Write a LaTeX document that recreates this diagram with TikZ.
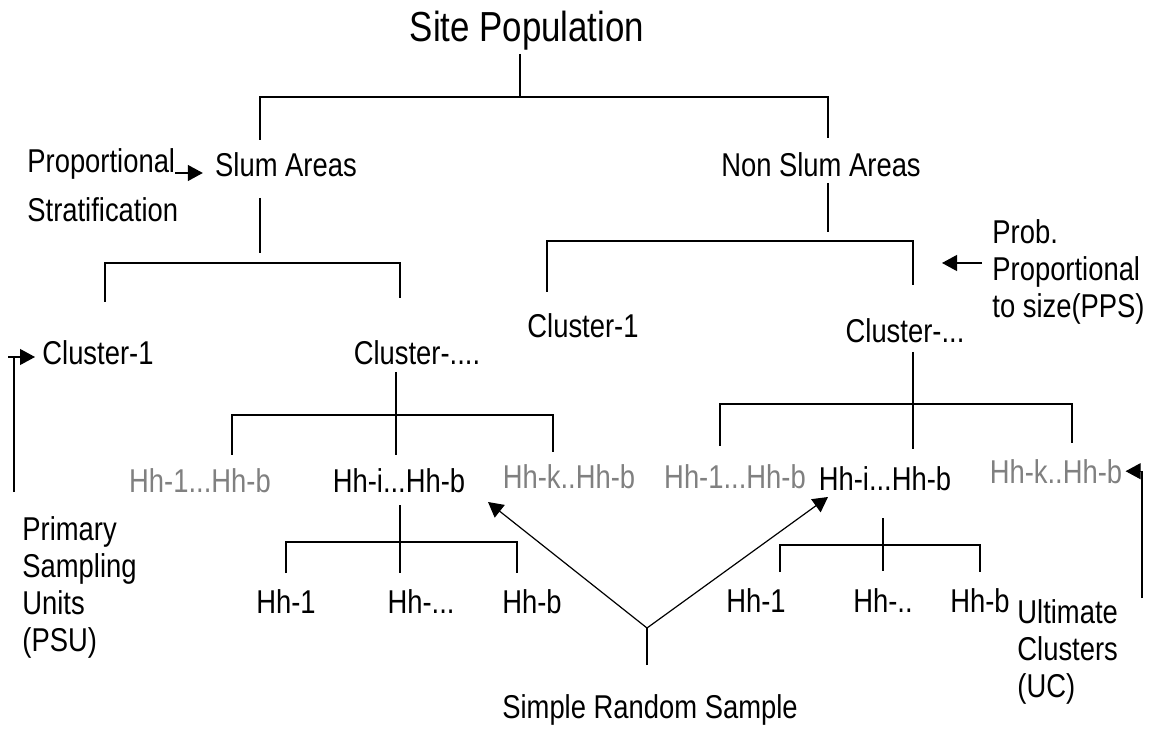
\documentclass[tikz,border=0pt]{standalone}
\usepackage{fontspec}
\setmainfont{Liberation Sans}[FakeStretch=0.83]
\usetikzlibrary{arrows.meta}
\definecolor{hhgray}{gray}{0.5}
\tikzset{
  lbl/.style={inner sep=0pt,font=\fontsize{16.5}{18.5}\selectfont},
  dim/.style={lbl,text=hhgray},
  ln/.style={line width=0.6pt},
}
\begin{document}
\begin{tikzpicture}[x=0.5pt,y=-0.5pt,>={Triangle[length=7.5pt,width=8pt]}]
\useasboundingbox (0,0) rectangle (1155,731);
% labels
\node[lbl,font=\fontsize{21}{25}\selectfont,anchor=base] (site) at (527,42) {Site Population};
\node[lbl,anchor=base] (slum) at (286,177) {Slum Areas};
\node[lbl,anchor=base] (nonslum) at (821,177) {Non Slum Areas};
\node[lbl,anchor=base west] (prop) at (27,173) {Proportional};
\node[lbl,anchor=base west] (strat) at (27,222) {Stratification};
\node[lbl,anchor=base west] (clA) at (42,365) {Cluster-1};
\node[lbl,anchor=base] (clB) at (417,365) {Cluster-....};
\node[lbl,anchor=base] (clC) at (583,338) {Cluster-1};
\node[lbl,anchor=base] (clD) at (905,343) {Cluster-...};
\node[lbl,align=left,anchor=north west] (pps) at (992,219) {Prob.\\Proportional\\to size(PPS)};
\node[dim,anchor=base] (hhA) at (200,492) {Hh-1...Hh-b};
\node[lbl,anchor=base] (hhB) at (399,493) {Hh-i...Hh-b};
\node[dim,anchor=base] (hhC) at (569,488) {Hh-k..Hh-b};
\node[dim,anchor=base] (hhD) at (735,488) {Hh-1...Hh-b};
\node[lbl,anchor=base] (hhE) at (885,490) {Hh-i...Hh-b};
\node[dim,anchor=base] (hhF) at (1056,483) {Hh-k..Hh-b};
\node[lbl,anchor=base] (hA1) at (286,613) {Hh-1};
\node[lbl,anchor=base] (hA2) at (421,613) {Hh-...};
\node[lbl,anchor=base] (hA3) at (532,613) {Hh-b};
\node[lbl,anchor=base] (hB1) at (756,612) {Hh-1};
\node[lbl,anchor=base] (hB2) at (883,612) {Hh-..};
\node[lbl,anchor=base] (hB3) at (980,612) {Hh-b};
\node[lbl,align=left,anchor=north west] (psu) at (22,516) {Primary\\Sampling\\Units\\(PSU)};
\node[lbl,align=left,anchor=north west] (uc) at (1017,599) {Ultimate\\Clusters\\(UC)};
\node[lbl,anchor=base] (srs) at (650,718) {Simple Random Sample};
% site population -> areas
\coordinate (s0) at (520,54);  \coordinate (s1) at (520,97);
\coordinate (s2) at (260,140); \coordinate (s3) at (828,138);
\draw[ln] (s0) -- (s1) (s2) |- (s1) -| (s3);
% slum areas -> clusters
\coordinate (a0) at (260,198); \coordinate (a1) at (260,253);
\coordinate (a2) at (105,302); \coordinate (a3) at (400,298);
\coordinate (a4) at (260,263);
\draw[ln] (a0) -- (a1) (a2) |- (a4) -| (a3);
% non slum areas -> clusters
\coordinate (n0) at (828,183); \coordinate (n1) at (828,232);
\coordinate (n2) at (547,292); \coordinate (n3) at (913,285);
\coordinate (n4) at (828,241);
\draw[ln] (n0) -- (n1) (n2) |- (n4) -| (n3);
% cluster-.... -> households
\coordinate (c0) at (396,372); \coordinate (c1) at (396,455);
\coordinate (c2) at (232,455); \coordinate (c3) at (553,452);
\coordinate (c4) at (396,415);
\draw[ln] (c0) -- (c1) (c2) |- (c4) -| (c3);
% cluster-... -> households
\coordinate (d0) at (913,352); \coordinate (d1) at (913,449);
\coordinate (d2) at (720,446); \coordinate (d3) at (1072,443);
\coordinate (d4) at (913,404);
\draw[ln] (d0) -- (d1) (d2) |- (d4) -| (d3);
% hh-i...hh-b -> hh
\coordinate (e0) at (400,505); \coordinate (e1) at (400,573);
\coordinate (e2) at (286,573); \coordinate (e3) at (517,573);
\coordinate (e4) at (400,542);
\draw[ln] (e0) -- (e1) (e2) |- (e4) -| (e3);
\coordinate (f0) at (883,518); \coordinate (f1) at (883,571);
\coordinate (f2) at (780,572); \coordinate (f3) at (980,572);
\coordinate (f4) at (883,545);
\draw[ln] (f0) -- (f1) (f2) |- (f4) -| (f3);
% side arrows
\draw[ln,->,shorten >=6pt] (prop.base east) -- (prop.base east -| slum.west);
\coordinate (p0) at (14,492); \coordinate (p1) at (8,357);
\draw[ln] (p0) -- (p0 |- p1);
\draw[ln,->,shorten >=3.5pt] (p1) -- (p1 -| clA.west);
\coordinate (q0) at (982,263); \coordinate (q1) at (942,263);
\draw[ln,->] (q0) -- (q1);
\coordinate (u0) at (1142,598);
\draw[ln,->,shorten >=1.5pt] (u0) |- (hhF.east);
% simple random sample
\coordinate (v0) at (647,628); \coordinate (v1) at (647,665);
\coordinate (v2) at (488,502); \coordinate (v3) at (828,497);
\draw[ln] (v1) -- (v0);
\draw[ln,->] (v0) -- (v2);
\draw[ln,->] (v0) -- (v3);
\end{tikzpicture}
\end{document}
